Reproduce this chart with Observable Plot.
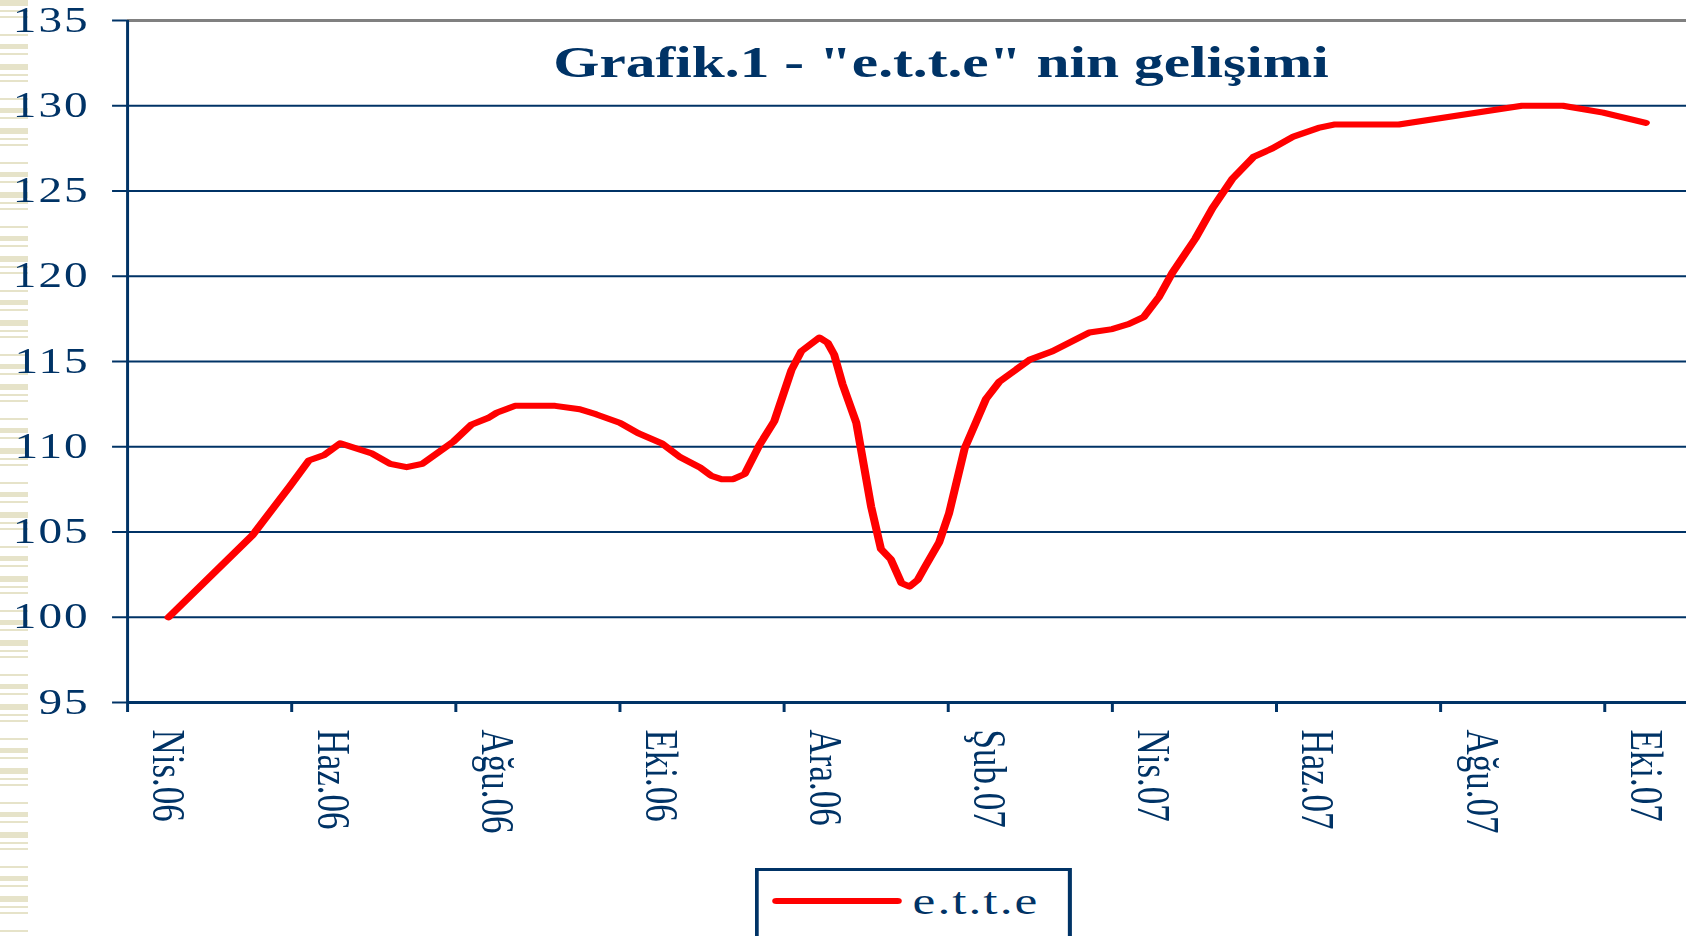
<!DOCTYPE html>
<html>
<head>
<meta charset="utf-8">
<script src="https://cdn.jsdelivr.net/npm/d3@7"></script>
<script src="https://cdn.jsdelivr.net/npm/@observablehq/plot@0.6"></script>
<style>
  html, body { margin: 0; padding: 0; background: #ffffff; overflow: hidden; width: 1686px; height: 936px; }
  #stripes {
    position: absolute; left: 0; top: 0; width: 28px; height: 936px;
    background: repeating-linear-gradient(to bottom,
      #e6e3c9 0px, #e6e3c9 6px, transparent 6px, transparent 10px,
      #e6e3c9 10px, #e6e3c9 12px, transparent 12px, transparent 16px,
      #e6e3c9 16px, #e6e3c9 18px, transparent 18px, transparent 34px,
      #e6e3c9 34px, #e6e3c9 36px, transparent 36px, transparent 44px,
      #e6e3c9 44px, #e6e3c9 49px, transparent 49px, transparent 53px,
      #e6e3c9 53px, #e6e3c9 55px, transparent 55px, transparent 64px);
  }
  #wrap { position: absolute; left: 0; top: 0; width: 1249px; height: 936px; transform: scaleX(1.35); transform-origin: 0 0; }
  #title {
    position: absolute; top: 41px; left: 697px; transform: translateX(-50%);
    white-space: nowrap; font-family: "Liberation Serif", "Times New Roman", serif;
    font-weight: bold; font-size: 44px; line-height: 44px; color: #003366;
  }
  #legend {
    position: absolute; left: 559px; top: 868px; width: 235px; height: 110px;
    border: 3px solid #003366; box-sizing: border-box; background: #ffffff;
  }
  #legend .swatch { position: absolute; left: 10px; top: 27px; width: 96px; height: 6px; background: #ff0000; border-radius: 3px; }
  #legend .lab {
    position: absolute; left: 114px; top: 11px; white-space: nowrap;
    font-family: "Liberation Serif", "Times New Roman", serif; font-size: 38px; line-height: 38px;
    letter-spacing: 1.5px; color: #003366;
  }
  #chart svg g[aria-label="y-axis tick label"] text { letter-spacing: 1.5px; }
</style>
</head>
<body>
<div id="stripes"></div>
<div id="wrap">
  <div id="chart"></div>
  <div id="title">Grafik.1 - "e.t.t.e" nin gelişimi</div>
  <div id="legend"><div class="swatch"></div><div class="lab">e.t.t.e</div></div>
</div>
<script>
// Month position (0 = start of Nis.06, 1 unit = one month) and index values
const monthPos = [0.50, 1.52, 1.98, 2.21, 2.39, 2.59, 2.98, 3.20, 3.40, 3.59, 3.97, 4.19, 4.40, 4.50, 4.72,
  5.21, 5.51, 5.71, 6.00, 6.22, 6.51, 6.73, 6.97, 7.11, 7.24, 7.38, 7.52, 7.70, 7.88, 8.09, 8.21, 8.43,
  8.53, 8.61, 8.71, 8.88, 9.06, 9.18, 9.30, 9.43, 9.53, 9.63, 9.71, 9.89, 10.01, 10.20, 10.46, 10.62,
  10.99, 11.27, 11.72, 12.00, 12.20, 12.38, 12.57, 12.73, 13.01, 13.22, 13.46, 13.72, 13.95, 14.21,
  14.51, 14.70, 15.49, 16.99, 17.49, 17.98, 18.50];
const etteValues = [100.0, 104.8, 107.7, 109.2, 109.5, 110.2, 109.6, 109.0, 108.8, 109.0, 110.3, 111.3, 111.7, 112.0, 112.4,
  112.4, 112.2, 111.9, 111.4, 110.8, 110.2, 109.4, 108.8, 108.3, 108.1, 108.1, 108.4, 110.1, 111.5, 114.5, 115.6, 116.4,
  116.1, 115.4, 113.7, 111.4, 106.5, 104.0, 103.4, 102.0, 101.8, 102.2, 102.9, 104.4, 106.1, 109.9, 112.8, 113.8,
  115.1, 115.6, 116.7, 116.9, 117.2, 117.6, 118.8, 120.2, 122.2, 124.0, 125.7, 127.0, 127.5, 128.2,
  128.7, 128.9, 128.9, 130.0, 130.0, 129.6, 129.0];

const xTickLabels = ["Nis.06", "Haz.06", "Ağu.06", "Eki.06", "Ara.06", "Şub.07", "Nis.07", "Haz.07", "Ağu.07", "Eki.07"];
const xTickMonths = [0, 2, 4, 6, 8, 10, 12, 14, 16, 18];      // category boundaries (tick marks)
const xLabelMonths = [0.5, 2.5, 4.5, 6.5, 8.5, 10.5, 12.5, 14.5, 16.5, 18.5]; // category centres (labels)
const yTicks = [95, 100, 105, 110, 115, 120, 125, 130, 135];
const yGrid = [100, 105, 110, 115, 120, 125, 130];

const navy = "#003366";
const data = monthPos.map((p, i) => ({pos: p, v: etteValues[i]}));
const labelMap = new Map(xLabelMonths.map((m, i) => [m, xTickLabels[i]]));
const font = '"Liberation Serif", "Times New Roman", serif';

const chart = Plot.plot({
  width: 1249,
  height: 860,
  marginLeft: 94,
  marginRight: 0,
  marginTop: 20,
  marginBottom: 158,
  style: {background: "transparent", fontFamily: font, color: navy, maxWidth: "none", overflow: "visible"},
  x: {domain: [0, 19], axis: null},
  y: {domain: [95, 135], axis: null},
  marks: [
    Plot.ruleY(yGrid, {stroke: navy, strokeWidth: 2.2}),
    Plot.ruleY([135], {stroke: "#808080", strokeWidth: 3}),
    Plot.axisY({ticks: yTicks, tickSize: 11, tickPadding: 17, fontSize: 35, stroke: navy, strokeWidth: 2,
      fill: navy, tickFormat: d => String(d), label: null}),
    Plot.axisX({ticks: xTickMonths, tickSize: 10, stroke: navy, strokeWidth: 2.2, tickFormat: () => "", label: null}),
    Plot.axisX({ticks: xLabelMonths, tickSize: 0, tickPadding: 27, tickRotate: 90, fontSize: 35, fill: navy,
      tickFormat: d => labelMap.get(d), label: null}),
    Plot.ruleX([0], {stroke: navy, strokeWidth: 2.2}),
    Plot.ruleY([95], {stroke: navy, strokeWidth: 3}),
    Plot.line(data, {x: "pos", y: "v", stroke: "#ff0000", strokeWidth: 6, strokeLinecap: "round", strokeLinejoin: "round"})
  ]
});
document.getElementById("chart").appendChild(chart);
</script>
</body>
</html>
